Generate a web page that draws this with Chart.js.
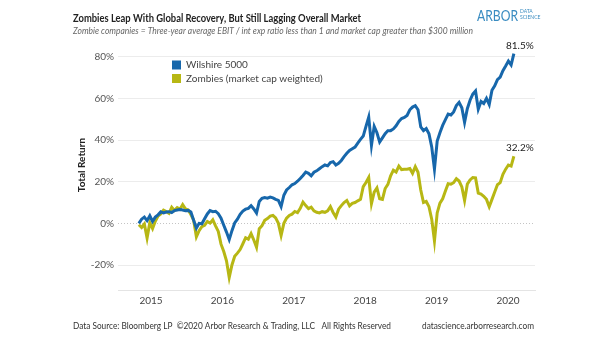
<!DOCTYPE html>
<html>
<head>
<meta charset="utf-8">
<script src="https://cdn.jsdelivr.net/npm/chart.js@4.4.1/dist/chart.umd.min.js"></script>
<style>
  html, body { margin: 0; padding: 0; background: #fff; }
  #wrap { width: 605px; height: 341px; }
</style>
</head>
<body>
<div id="wrap"><canvas id="chart" width="605" height="341"></canvas></div>
<script>
// one reading every two weeks, starting 31 Oct 2014
const startDate = Date.UTC(2014, 9, 31);
const stepDays = 14;

// total return since start, %
const wilshire = [
  0, 2.0, 3.0, 1.3, 3.6, 0.9, 3.0, 4.1, 5.5, 5.0,
  5.4, 5.6, 5.2, 6.1, 6.4, 6.6, 6.4, 6.0, 6.2, 5.4,
  1.5, -2.3, 0.0, -0.2, 2.2, 4.5, 6.1, 5.6, 5.8, 4.6,
  2.5, -0.9, -4.2, -7.8, -3.5, 0.2, 2.0, 4.3, 5.9, 6.8,
  7.2, 8.5, 6.9, 4.9, 10.5, 12.0, 12.4, 12.1, 12.6, 12.2,
  11.5, 11.0, 8.0, 13.5, 16.0, 17.2, 18.5, 19.1, 20.2, 21.5,
  23.0, 24.6, 24.0, 22.8, 24.5, 25.2, 26.2, 27.2, 28.0, 27.6,
  29.2, 29.6, 28.0, 28.8, 30.2, 32.0, 33.6, 35.0, 35.8, 36.6,
  38.5, 40.3, 41.9, 46.5, 51.0, 37.5, 46.5, 43.5, 39.0, 41.0,
  43.0, 44.5, 44.5, 45.3, 46.8, 48.9, 50.3, 50.8, 51.8, 54.5,
  55.8, 56.5, 54.5, 46.3, 44.5, 45.5, 43.0, 36.7, 26.0, 39.5,
  43.5, 47.0, 49.8, 52.4, 52.0, 53.5, 56.5, 58.0, 55.5, 48.5,
  55.0, 59.1, 62.0, 63.5, 54.8, 58.5, 57.5, 60.0, 57.0, 63.9,
  66.0, 69.0, 70.2, 73.3, 75.5, 77.9, 76.0, 81.5
];
const zombies = [
  -0.7, -2.0, -0.3, -7.1, 0.3, -2.5, 1.0, 3.5, 4.5, 6.3,
  5.6, 4.8, 7.7, 6.2, 7.5, 6.8, 9.0, 7.0, 6.4, 4.2,
  1.5, -6.5, -3.5, -1.6, -1.0, 0.9, 0.1, 1.7, -1.2, -3.9,
  -10.0, -13.5, -18.0, -26.0, -20.0, -15.8, -14.3, -12.6, -9.8, -6.9,
  -7.6, -4.9, -8.0, -11.5, -2.6, -1.1, 1.5, 2.3, 3.5, 3.8,
  2.6, 0.0, -5.8, 0.0, 2.5, 3.8, 4.4, 5.7, 5.1, 7.2,
  10.2, 8.5, 7.1, 7.8, 6.0, 5.3, 5.0, 5.6, 5.3, 6.0,
  8.0, 5.2, 3.0, 6.8, 8.5, 10.0, 11.0, 8.4, 9.6, 10.0,
  10.8, 11.5, 17.6, 19.6, 22.0, 9.5, 15.0, 17.0, 11.8, 11.5,
  16.7, 18.7, 22.8, 25.5, 24.6, 27.5, 25.8, 26.0, 26.0, 26.3,
  24.0, 27.2, 24.5, 16.0, 10.0, 10.5, 8.0, 2.0, -8.5, 5.0,
  9.7, 11.8, 15.5, 19.0, 18.8, 19.5, 21.4, 20.3, 17.5, 11.0,
  18.8, 20.8, 22.0, 21.8, 14.5, 14.0, 13.0, 11.5, 8.0, 11.5,
  15.0, 18.5, 19.5, 23.5, 26.0, 28.0, 27.5, 32.2
];

const yearTicks = [2015, 2016, 2017, 2018, 2019, 2020];
const returnTicks = [-20, 0, 20, 40, 60, 80];
const seriesNames = ['Wilshire 5000', 'Zombies (market cap weighted)'];
const seriesColors = ['#1767ab', '#b7b714'];

const FONT = 'Lato, "Noto Sans", sans-serif';

function toYear(ms) {
  const y = new Date(ms).getUTCFullYear();
  const a = Date.UTC(y, 0, 1), b = Date.UTC(y + 1, 0, 1);
  return y + (ms - a) / (b - a);
}
const dates = wilshire.map((_, i) => toYear(startDate + i * stepDays * 864e5));

// squeeze text into a width if it runs too long
function fitText(ctx, text, x, y, maxW) {
  const w = ctx.measureText(text).width;
  if (w > maxW) {
    ctx.save();
    ctx.translate(x, y);
    ctx.scale(maxW / w, 1);
    ctx.fillText(text, 0, 0);
    ctx.restore();
  } else {
    ctx.fillText(text, x, y);
  }
}

const decor = {
  id: 'decor',
  beforeDraw(chart) {
    const ctx = chart.ctx;
    ctx.save();
    ctx.fillStyle = '#fff';
    ctx.fillRect(0, 0, chart.width, chart.height);
    ctx.restore();
  },
  beforeDatasetsDraw(chart) {
    // dotted zero line
    const {ctx, chartArea, scales} = chart;
    const y0 = Math.round(scales.y.getPixelForValue(0)) + 0.5;
    ctx.save();
    ctx.strokeStyle = '#c4c4c4';
    ctx.lineWidth = 1;
    ctx.setLineDash([1, 2]);
    ctx.beginPath();
    ctx.moveTo(chartArea.left, y0);
    ctx.lineTo(chartArea.right, y0);
    ctx.stroke();
    ctx.restore();
  },
  afterDatasetsDraw(chart) {
    const ctx = chart.ctx;
    ctx.save();
    // end-of-series labels
    ctx.font = '10px ' + FONT;
    ctx.fillStyle = '#222';
    ctx.textAlign = 'center';
    ctx.textBaseline = 'bottom';
    chart.data.datasets.forEach((ds, i) => {
      const pts = chart.getDatasetMeta(i).data;
      const last = pts[pts.length - 1];
      const v = ds.data[ds.data.length - 1].y;
      ctx.fillText(v.toFixed(1) + '%', last.x + 6, last.y - 3);
    });

    // legend
    ctx.textAlign = 'left';
    ctx.textBaseline = 'middle';
    ctx.font = '10px ' + FONT;
    chart.data.datasets.forEach((ds, i) => {
      const y = 65 + i * 13.5;
      ctx.fillStyle = ds.borderColor;
      ctx.fillRect(172, y - 4.5, 9, 9);
      ctx.fillStyle = '#444';
      ctx.fillText(ds.label, 186, y);
    });

    // titles
    ctx.fillStyle = '#222';
    ctx.font = 'bold 11.5px ' + FONT;
    fitText(ctx, 'Zombies Leap With Global Recovery, But Still Lagging Overall Market', 73, 18, 288);
    ctx.fillStyle = '#666';
    ctx.font = 'italic 9.5px ' + FONT;
    fitText(ctx, 'Zombie companies = Three-year average EBIT / int exp ratio less than 1 and market cap greater than $300 million', 73, 31, 400);

    // logo
    ctx.fillStyle = '#3a8cc1';
    ctx.font = '15px ' + FONT;
    ctx.textBaseline = 'alphabetic';
    fitText(ctx, 'ARBOR', 477, 21, 41);
    ctx.font = '5px ' + FONT;
    ctx.fillText('DATA', 520, 13);
    ctx.fillText('SCIENCE', 520, 19);

    // footer
    ctx.textBaseline = 'middle';
    ctx.fillStyle = '#333';
    ctx.font = '9.5px ' + FONT;
    fitText(ctx, 'Data Source: Bloomberg LP  \u00a92020 Arbor Research & Trading, LLC   All Rights Reserved', 73, 326, 318);
    fitText(ctx, 'datascience.arborresearch.com', 422, 326, 112);
    ctx.restore();
  }
};

new Chart(document.getElementById('chart'), {
  type: 'line',
  data: {
    datasets: [
      {
        label: seriesNames[0],
        data: dates.map((d, i) => ({x: d, y: wilshire[i]})),
        borderColor: seriesColors[0],
        backgroundColor: seriesColors[0],
        borderWidth: 3,
        pointRadius: 0,
        tension: 0
      },
      {
        label: seriesNames[1],
        data: dates.map((d, i) => ({x: d, y: zombies[i]})),
        borderColor: seriesColors[1],
        backgroundColor: seriesColors[1],
        borderWidth: 3,
        pointRadius: 0,
        tension: 0
      }
    ]
  },
  options: {
    responsive: false,
    animation: false,
    layout: { padding: { top: 40, left: 0, right: 70, bottom: 0 } },
    plugins: { legend: { display: false }, tooltip: { enabled: false } },
    scales: {
      x: {
        type: 'linear',
        min: 2014.538,
        max: 2020.378,
        afterBuildTicks(scale) { scale.ticks = yearTicks.map(v => ({value: v})); },
        afterFit(scale) { scale.height = 51; },
        grid: { drawOnChartArea: false, drawTicks: false },
        border: { display: true, color: '#e4e4e4', width: 1 },
        ticks: {
          padding: 5,
          color: '#444',
          font: { family: FONT, size: 10 },
          callback: v => String(v),
          maxRotation: 0
        }
      },
      y: {
        min: -32,
        max: 88,
        afterBuildTicks(scale) { scale.ticks = returnTicks.map(v => ({value: v})); },
        afterFit(scale) { scale.width = 118; },
        grid: {
          drawTicks: false,
          color: c => (c.tick && c.tick.value === 0) ? 'rgba(0,0,0,0)' : '#ececec'
        },
        border: { display: false },
        ticks: {
          padding: 4,
          color: '#555',
          font: { family: FONT, size: 10 },
          callback: v => v + '%'
        },
        title: {
          display: true,
          text: 'Total Return',
          color: '#222',
          font: { family: FONT, size: 10, weight: 'bold' },
          padding: { top: 76, bottom: 0 }
        }
      }
    }
  },
  plugins: [decor]
});
</script>
</body>
</html>
